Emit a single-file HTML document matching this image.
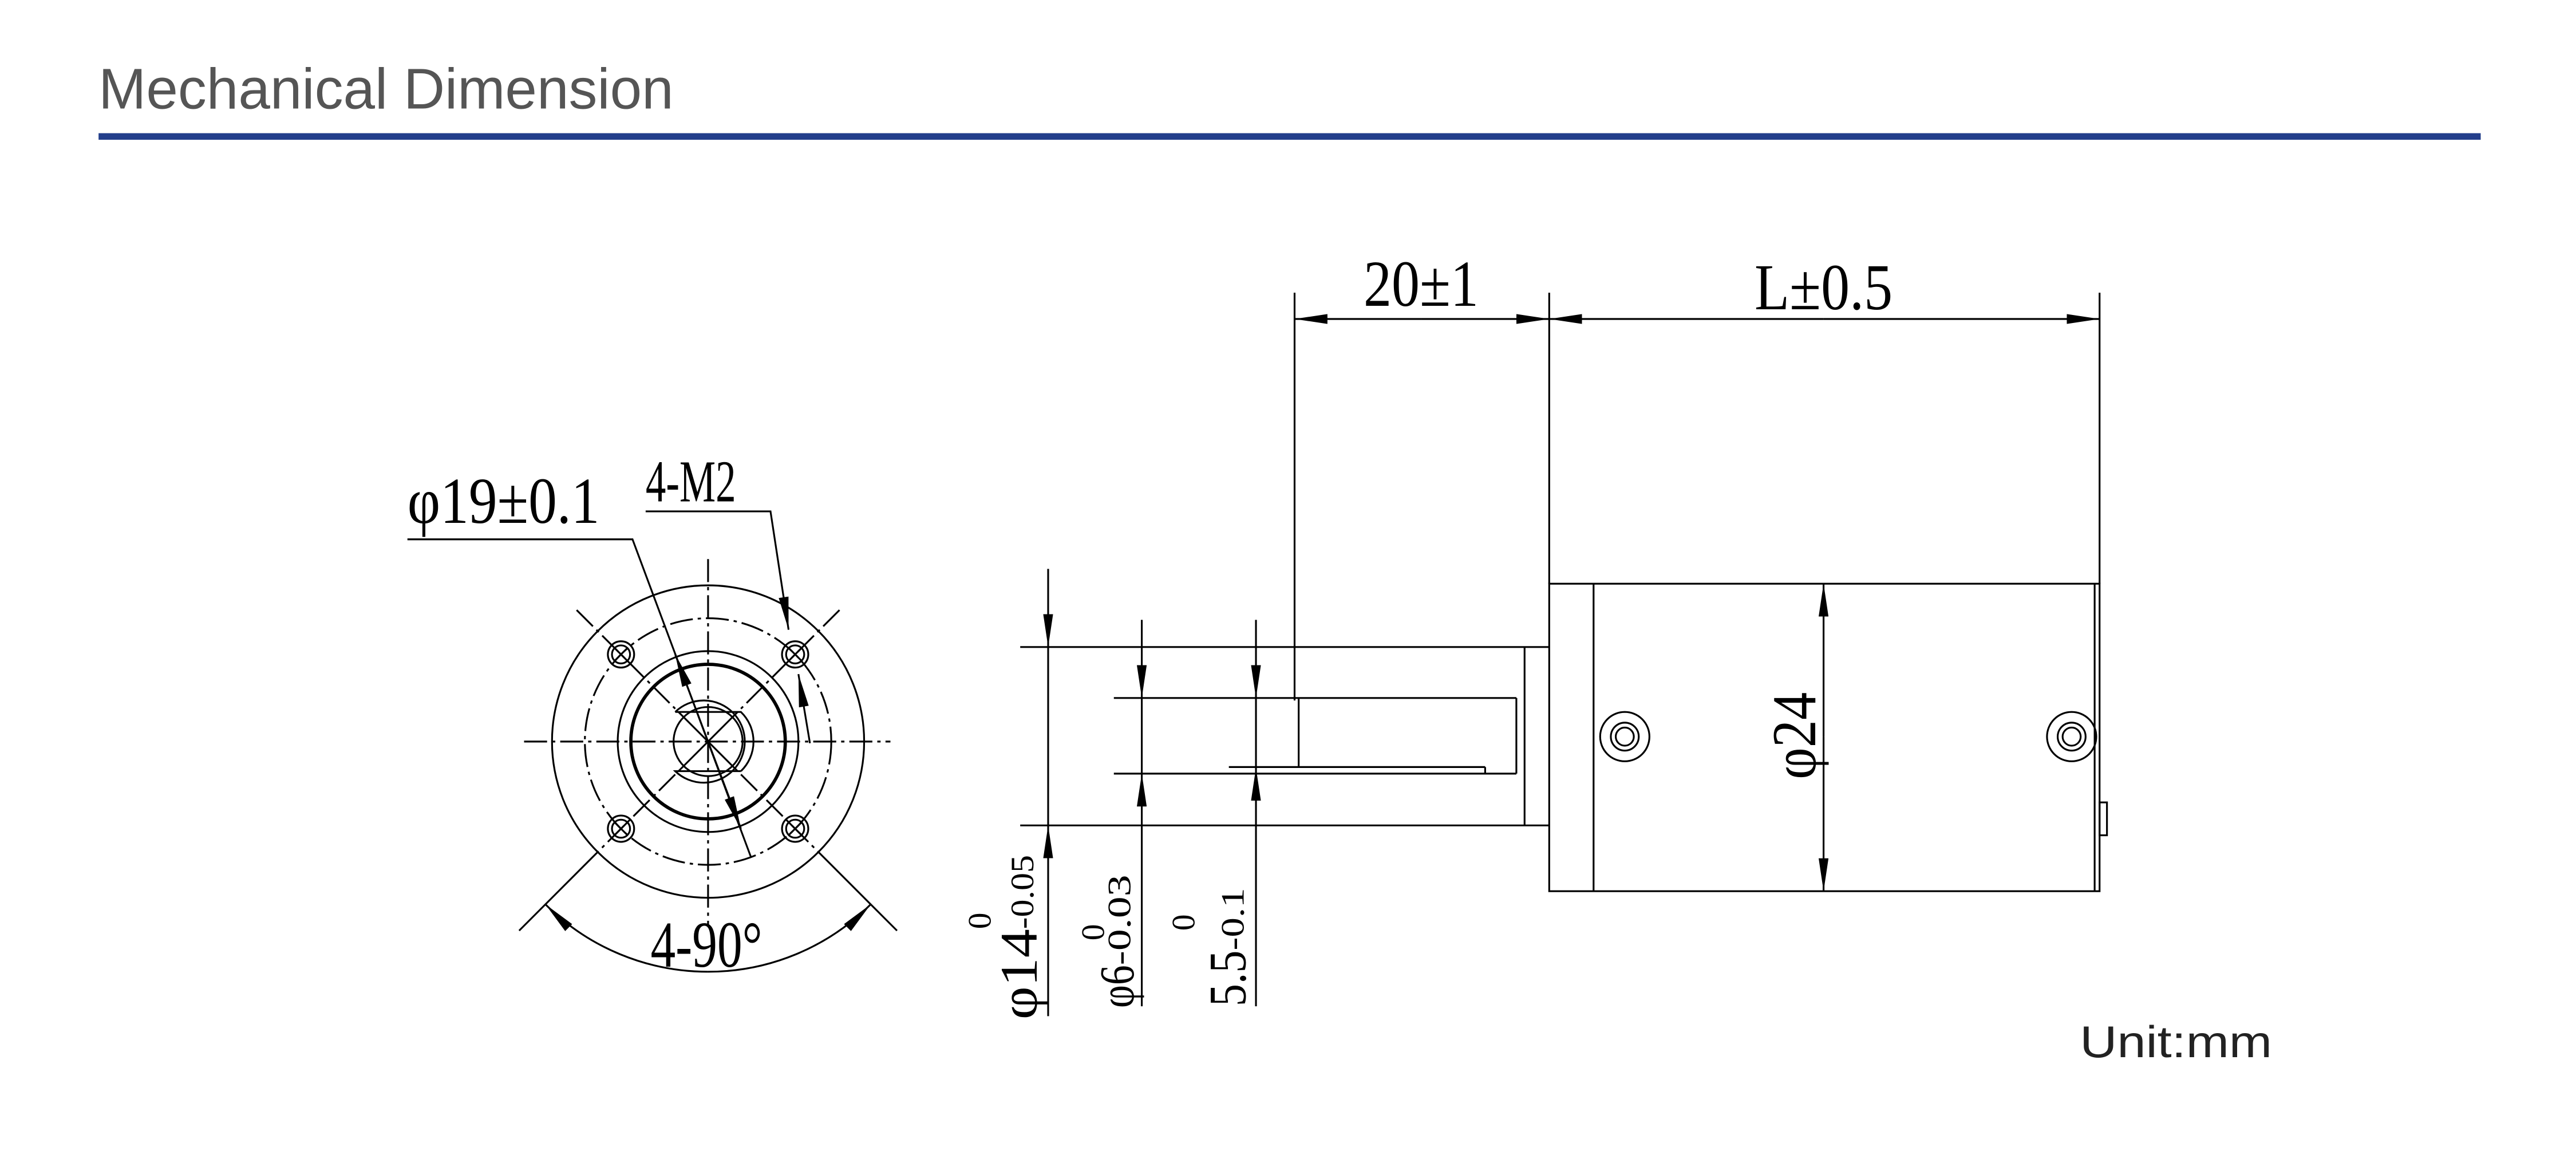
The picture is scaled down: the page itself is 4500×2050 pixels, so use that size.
<!DOCTYPE html>
<html><head><meta charset="utf-8"><style>
html,body{margin:0;padding:0;background:#fff;}
svg{display:block;}
</style></head><body>
<svg width="4500" height="2050" viewBox="0 0 1568 714" preserveAspectRatio="none" xmlns="http://www.w3.org/2000/svg">
<defs>
<marker id="a" viewBox="0 0 20 6" refX="20" refY="3" markerWidth="20" markerHeight="6" markerUnits="userSpaceOnUse" orient="auto"><path d="M0,0 L20,3 L0,6 z" fill="#000"/></marker>
</defs>
<rect width="1568" height="714" fill="#fff"/>
<text x="60" y="66" font-family="Liberation Sans, sans-serif" font-size="35" fill="#555" textLength="350" lengthAdjust="spacingAndGlyphs">Mechanical Dimension</text>
<rect x="60" y="81" width="1450" height="4" fill="#233e8b"/>
<text x="1266" y="643" font-family="Liberation Sans, sans-serif" font-size="27" fill="#222" textLength="117" lengthAdjust="spacingAndGlyphs">Unit:mm</text>

<g fill="none" stroke="#000" stroke-width="1.1">
<!-- front view -->
<line x1="319" y1="451" x2="542" y2="451" stroke-dasharray="14 3 2 3"/>
<line x1="431" y1="340" x2="431" y2="563" stroke-dasharray="14 3 2 3"/>
<circle cx="431" cy="451" r="95"/>
<circle cx="431" cy="451" r="75" stroke-dasharray="14 3 2 3"/>
<circle cx="431" cy="451" r="55"/>
<circle cx="431" cy="451" r="47" stroke-width="2"/>
<path d="M411,433 A25,25 0 1 1 411,469 L451,469" />
<path d="M411,433 L451,433 A25,25 0 0 1 451,469"/>
<circle cx="431" cy="451" r="21"/>
<line x1="413" y1="433" x2="449" y2="469"/><line x1="449" y1="433" x2="413" y2="469"/>
<!-- diagonals -->
<line x1="351" y1="371" x2="411" y2="431" stroke-dasharray="14 3 2 3"/>
<line x1="511" y1="371" x2="451" y2="431" stroke-dasharray="14 3 2 3"/>
<line x1="411" y1="471" x2="364" y2="518" stroke-dasharray="14 3 2 3"/>
<line x1="451" y1="471" x2="498" y2="518" stroke-dasharray="14 3 2 3"/>
<line x1="364" y1="518" x2="316" y2="566"/>
<line x1="498" y1="518" x2="546" y2="566"/>
<!-- holes -->
<g>
<circle cx="378" cy="398" r="8"/><circle cx="378" cy="398" r="5.5"/>
<line x1="374" y1="394" x2="382" y2="402"/><line x1="382" y1="394" x2="374" y2="402"/>
<circle cx="484" cy="398" r="8"/><circle cx="484" cy="398" r="5.5"/>
<line x1="480" y1="394" x2="488" y2="402"/><line x1="488" y1="394" x2="480" y2="402"/>
<circle cx="378" cy="504" r="8"/><circle cx="378" cy="504" r="5.5"/>
<line x1="374" y1="500" x2="382" y2="508"/><line x1="382" y1="500" x2="374" y2="508"/>
<circle cx="484" cy="504" r="8"/><circle cx="484" cy="504" r="5.5"/>
<line x1="480" y1="500" x2="488" y2="508"/><line x1="488" y1="500" x2="480" y2="508"/>
</g>
<!-- 4-90 arc -->
<path d="M431,591 A140,140 0 0 1 332,550" marker-end="url(#a)"/>
<path d="M431,591 A140,140 0 0 0 530,550" marker-end="url(#a)"/>
<!-- phi19 leader -->
<polyline points="248,328 385,328 457,521"/>
<line x1="431" y1="451" x2="411" y2="398" marker-end="url(#a)"/>
<line x1="431" y1="451" x2="451" y2="504" marker-end="url(#a)"/>
<!-- 4-M2 leader -->
<polyline points="393,311 469,311 480,383" marker-end="url(#a)"/>
<line x1="493" y1="452" x2="486" y2="410" marker-end="url(#a)"/>

<!-- side view -->
<line x1="788" y1="178" x2="788" y2="426"/>
<line x1="943" y1="178" x2="943" y2="355"/>
<line x1="1278" y1="178" x2="1278" y2="355"/>
<line x1="865" y1="194" x2="788" y2="194" marker-end="url(#a)"/>
<line x1="865" y1="194" x2="943" y2="194" marker-end="url(#a)"/>
<line x1="1110" y1="194" x2="943" y2="194" marker-end="url(#a)"/>
<line x1="1110" y1="194" x2="1278" y2="194" marker-end="url(#a)"/>
<rect x="943" y="355" width="335" height="187"/>
<line x1="970" y1="355" x2="970" y2="542"/>
<line x1="1275" y1="355" x2="1275" y2="542"/>
<rect x="1278" y="488" width="4.5" height="20"/>
<circle cx="989" cy="448" r="15"/><circle cx="989" cy="448" r="8.5"/><circle cx="989" cy="448" r="5.5"/>
<circle cx="1261" cy="448" r="15"/><circle cx="1261" cy="448" r="8.5"/><circle cx="1261" cy="448" r="5.5"/>
<line x1="1110" y1="448" x2="1110" y2="355" marker-end="url(#a)"/>
<line x1="1110" y1="448" x2="1110" y2="542" marker-end="url(#a)"/>
<!-- shaft -->
<line x1="621" y1="393.5" x2="943" y2="393.5"/>
<line x1="621" y1="502" x2="943" y2="502"/>
<line x1="928" y1="393.5" x2="928" y2="502"/>
<line x1="678" y1="424.5" x2="923" y2="424.5"/>
<line x1="678" y1="470.5" x2="923" y2="470.5"/>
<line x1="923" y1="424.5" x2="923" y2="470.5"/>
<line x1="790.5" y1="424.5" x2="790.5" y2="466.5"/>
<line x1="748" y1="466.5" x2="904" y2="466.5"/>
<line x1="904" y1="466.5" x2="904" y2="470.5"/>
<!-- vertical dims -->
<line x1="638" y1="346" x2="638" y2="393.5" marker-end="url(#a)"/>
<line x1="638" y1="618" x2="638" y2="502" marker-end="url(#a)"/>
<line x1="638" y1="393.5" x2="638" y2="502"/>
<line x1="695" y1="377" x2="695" y2="424.5" marker-end="url(#a)"/>
<line x1="695" y1="612" x2="695" y2="470.5" marker-end="url(#a)"/>
<line x1="695" y1="424.5" x2="695" y2="470.5"/>
<line x1="764.5" y1="377" x2="764.5" y2="424.5" marker-end="url(#a)"/>
<line x1="764.5" y1="612" x2="764.5" y2="467" marker-end="url(#a)"/>
<line x1="764.5" y1="424.5" x2="764.5" y2="467"/>
</g>

<g font-family="Liberation Serif, serif" fill="#000">
<text x="248" y="318" font-size="40" textLength="117" lengthAdjust="spacingAndGlyphs">φ19±0.1</text>
<text x="393" y="305" font-size="36" textLength="55" lengthAdjust="spacingAndGlyphs">4-M2</text>
<text x="396" y="588" font-size="40" textLength="68" lengthAdjust="spacingAndGlyphs">4-90°</text>
<text x="830" y="186" font-size="40" textLength="70" lengthAdjust="spacingAndGlyphs">20±1</text>
<text x="1068" y="188" font-size="40" textLength="84" lengthAdjust="spacingAndGlyphs">L±0.5</text>
<text transform="translate(1105,474) rotate(-90)" font-size="38" textLength="53" lengthAdjust="spacingAndGlyphs">φ24</text>
<text transform="translate(631,620) rotate(-90)" font-size="32" textLength="55" lengthAdjust="spacingAndGlyphs">φ14</text>
<text transform="translate(629,565) rotate(-90)" font-size="20" textLength="45" lengthAdjust="spacingAndGlyphs">-0.05</text>
<text transform="translate(603,565) rotate(-90)" font-size="20">0</text>
<text transform="translate(690,613) rotate(-90)" font-size="30" textLength="26" lengthAdjust="spacingAndGlyphs">φ6</text>
<text transform="translate(688,587) rotate(-90)" font-size="20" textLength="55" lengthAdjust="spacingAndGlyphs">-0.03</text>
<text transform="translate(672,572) rotate(-90)" font-size="20">0</text>
<text transform="translate(758,612) rotate(-90)" font-size="32" textLength="34" lengthAdjust="spacingAndGlyphs">5.5</text>
<text transform="translate(757,578) rotate(-90)" font-size="20" textLength="38" lengthAdjust="spacingAndGlyphs">-0.1</text>
<text transform="translate(727,566) rotate(-90)" font-size="20">0</text>
</g>
</svg>
</body></html>
